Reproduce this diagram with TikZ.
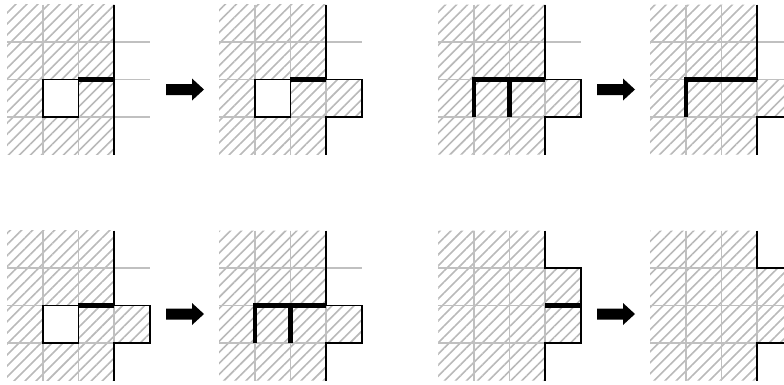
\documentclass[tikz,border=0pt]{standalone}
\usetikzlibrary{patterns.meta}
\definecolor{hatchgray}{RGB}{185,185,185}
\definecolor{gridgray}{RGB}{192,192,192}
\tikzset{
  hatch/.style={pattern={Lines[angle=45,distance=7.8pt,line width=1.6pt]},pattern color=hatchgray},
  gl/.style={draw=gridgray,line width=1.8pt},
  wall/.style={draw=black,line width=1.6pt,line join=miter},
  thk/.style={draw=black,line width=4.3pt,line join=miter},
  cellunit/.style={x=35.7pt,y=-37.5pt},
  bigarr/.pic={\fill[black] (0,-5.5) -- (26,-5.5) -- (26,-11) -- (38,0) -- (26,11) -- (26,5.5) -- (0,5.5) -- cycle;}
}
% panel with white cell, extension in row 2
\newcommand\panelWithWhite{%
  \path[hatch] (0,0) rectangle (3,4);
  \fill[white] (1,2) rectangle (2,3);
  \draw[gl] (1,0)--(1,2) (1,3)--(1,4) (2,0)--(2,2) (2,3)--(2,4)
            (0,1)--(4,1) (0,2)--(1,2) (0,3)--(1,3) (2,3)--(3,3) (2,2)--(3,2);
  \draw[wall] (1,2) rectangle (2,3);
}
\begin{document}
\begin{tikzpicture}[x=1pt,y=-1pt]
\useasboundingbox (0,0) rectangle (784,384);
\clip (0,0) rectangle (784,384);

% ---------- top row ----------
% panel 1
\begin{scope}[shift={(7,4.5)},cellunit]
  \panelWithWhite
  \draw[gl] (3,2)--(4,2) (3,3)--(4,3);
  \draw[wall] (3,0)--(3,4);
  \draw[thk] (2,2)--(3,2);
\end{scope}
\pic at (166,89.5) {bigarr};
% panel 2
\begin{scope}[shift={(219,4.5)},cellunit]
  \path[hatch] (3,2) rectangle (4,3);
  \panelWithWhite
  \draw[gl] (3,2)--(3,3);
  \draw[wall] (3,0)--(3,2)--(4,2)--(4,3)--(3,3)--(3,4);
  \draw[thk] (2,2)--(3,2);
\end{scope}
% panel 3
\begin{scope}[shift={(438,4.5)},cellunit]
  \path[hatch] (0,0) rectangle (3,4) (3,2) rectangle (4,3);
  \draw[gl] (1,0)--(1,4) (2,0)--(2,4) (0,1)--(4,1) (0,2)--(3,2) (0,3)--(3,3) (3,2)--(3,3);
  \draw[wall] (3,0)--(3,2)--(4,2)--(4,3)--(3,3)--(3,4);
  \draw[thk] (1,3)--(1,2)--(3,2);
  \draw[thk] (2,2)--(2,3);
\end{scope}
\pic at (597,89.5) {bigarr};
% panel 4
\begin{scope}[shift={(650,4.5)},cellunit]
  \path[hatch] (0,0) rectangle (3,4) (3,2) rectangle (4.5,3);
  \draw[gl] (1,0)--(1,4) (2,0)--(2,4) (0,1)--(4.5,1) (0,2)--(4.5,2) (0,3)--(3,3) (3,2)--(3,3);
  \draw[wall] (3,0)--(3,2);
  \draw[wall] (4.5,3)--(3,3)--(3,4);
  \draw[thk] (1,3)--(1,2)--(3,2);
\end{scope}

% ---------- bottom row ----------
% panel 5
\begin{scope}[shift={(7,230.5)},cellunit]
  \path[hatch] (3,2) rectangle (4,3);
  \panelWithWhite
  \draw[gl] (3,2)--(3,3);
  \draw[wall] (3,0)--(3,2)--(4,2)--(4,3)--(3,3)--(3,4);
  \draw[thk] (2,2)--(3,2);
\end{scope}
\pic at (166,314) {bigarr};
% panel 6
\begin{scope}[shift={(219,230.5)},cellunit]
  \path[hatch] (0,0) rectangle (3,4) (3,2) rectangle (4,3);
  \draw[gl] (1,0)--(1,4) (2,0)--(2,4) (0,1)--(4,1) (0,2)--(3,2) (0,3)--(3,3) (3,2)--(3,3);
  \draw[wall] (3,0)--(3,2)--(4,2)--(4,3)--(3,3)--(3,4);
  \draw[thk] (1,3)--(1,2)--(3,2);
  \draw[thk] (2,2)--(2,3);
\end{scope}
% panel 7
\begin{scope}[shift={(438,230.5)},cellunit]
  \path[hatch] (0,0) rectangle (3,4) (3,1) rectangle (4,3);
  \draw[gl] (1,0)--(1,4) (2,0)--(2,4) (0,1)--(3,1) (0,2)--(3,2) (0,3)--(3,3) (3,1)--(3,3);
  \draw[wall] (3,0)--(3,1)--(4,1)--(4,3)--(3,3)--(3,4);
  \draw[thk] (3,2)--(4,2);
\end{scope}
\pic at (597,314) {bigarr};
% panel 8
\begin{scope}[shift={(650,230.5)},cellunit]
  \path[hatch] (0,0) rectangle (3,4) (3,1) rectangle (4.5,3);
  \draw[gl] (1,0)--(1,4) (2,0)--(2,4) (0,1)--(3,1) (0,2)--(4.5,2) (0,3)--(3,3) (3,1)--(3,3);
  \draw[wall] (3,0)--(3,1)--(4.5,1);
  \draw[wall] (4.5,3)--(3,3)--(3,4);
\end{scope}
\end{tikzpicture}
\end{document}
